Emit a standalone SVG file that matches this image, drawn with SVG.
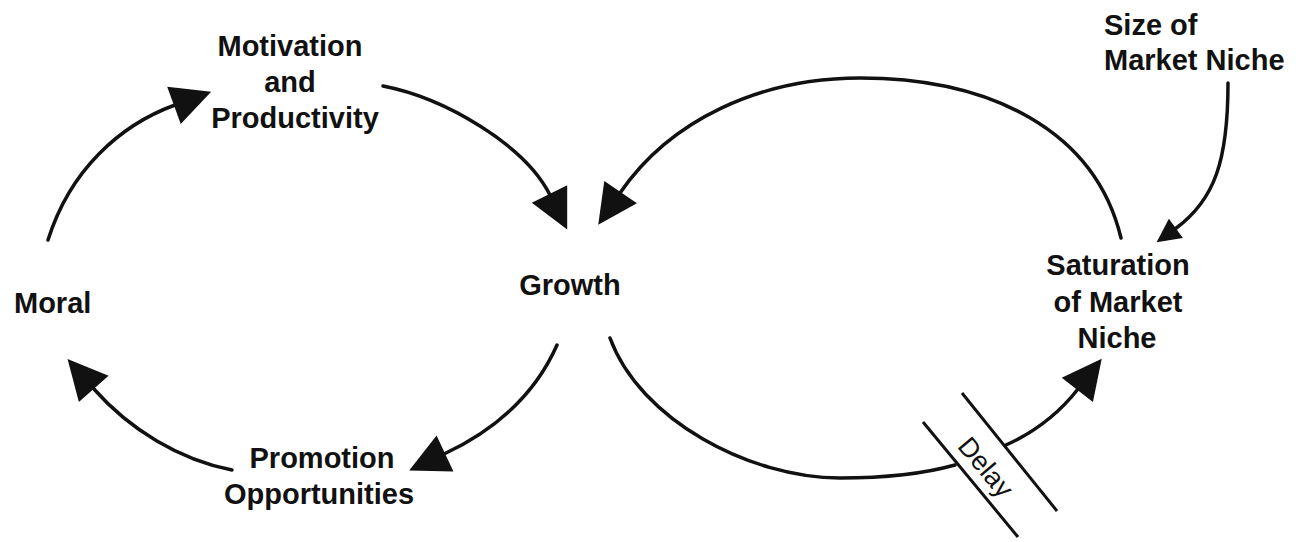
<svg xmlns="http://www.w3.org/2000/svg" width="1296" height="542" viewBox="0 0 1296 542">
  <defs>
    <style>
      .lbl { font-family: "Liberation Sans", Arial, sans-serif; font-weight: bold; font-size: 29px; fill: #111; }
      .mid { text-anchor: middle; }
      .link { fill: none; stroke: #111; stroke-width: 3.5; stroke-linecap: round; }
      .tick { fill: none; stroke: #111; stroke-width: 3; }
      .delay { font-family: "Liberation Sans", Arial, sans-serif; font-size: 27px; fill: #111; text-anchor: middle; }
    </style>
    <marker id="head" markerUnits="userSpaceOnUse" markerWidth="44" markerHeight="44" refX="1" refY="18" orient="auto" viewBox="0 0 40 36" overflow="visible">
      <path d="M0,0 L36,18 L0,36 Z" fill="#111"/>
    </marker>
    <marker id="head-sm" markerUnits="userSpaceOnUse" markerWidth="26" markerHeight="26" refX="1" refY="11" orient="auto" viewBox="0 0 24 22" overflow="visible">
      <path d="M0,0 L22,11 L0,22 Z" fill="#111"/>
    </marker>
  </defs>
  <rect width="1296" height="542" fill="#fff"/>

  <!-- Connectors -->
  <g id="connectors">
    <!-- Moral -> Motivation and Productivity -->
    <path class="link" d="M48,240 C70,170 120,125 175,105" marker-end="url(#head)"/>
    <!-- Motivation and Productivity -> Growth -->
    <path class="link" d="M383,86 C445,98 525,145 550,195" marker-end="url(#head)"/>
    <!-- Saturation of Market Niche -> Growth -->
    <path class="link" d="M1121,238 C1095,130 990,78 860,78 C760,78 670,120 620,193" marker-end="url(#head)"/>
    <!-- Size of Market Niche -> Saturation of Market Niche -->
    <path class="link" d="M1228,83 C1228,160 1215,200 1175,229" marker-end="url(#head-sm)"/>
    <!-- Growth -> Promotion Opportunities -->
    <path class="link" d="M557,345 C535,395 495,430 444,454" marker-end="url(#head)"/>
    <!-- Promotion Opportunities -> Moral -->
    <path class="link" d="M232,470 C180,460 130,430 93,388" marker-end="url(#head)"/>
    <!-- Growth -> Saturation of Market Niche, with delay -->
    <path class="link" d="M610,338 C640,420 750,478 840,478 C890,478 930,472 955,465"/>
    <path class="link" d="M1006,445 C1035,432 1060,412 1078,389" marker-end="url(#head)"/>
    <line class="tick" x1="923" y1="422" x2="1018" y2="537"/>
    <line class="tick" x1="962" y1="393" x2="1057" y2="511"/>
    <text class="delay" transform="translate(986,467) rotate(50)" y="9.5">Delay</text>
  </g>

  <!-- Nodes -->
  <g id="motivation">
    <text class="lbl mid" x="290" y="56">Motivation</text>
    <text class="lbl mid" x="290" y="92">and</text>
    <text class="lbl mid" x="295" y="128">Productivity</text>
  </g>
  <g id="moral">
    <text class="lbl" x="14" y="313">Moral</text>
  </g>
  <g id="growth">
    <text class="lbl mid" x="570" y="295">Growth</text>
  </g>
  <g id="promotion">
    <text class="lbl mid" x="322" y="468">Promotion</text>
    <text class="lbl mid" x="319" y="504">Opportunities</text>
  </g>
  <g id="size-of-market-niche">
    <text class="lbl" x="1104" y="35">Size of</text>
    <text class="lbl" x="1104" y="70">Market Niche</text>
  </g>
  <g id="saturation">
    <text class="lbl mid" x="1118" y="275">Saturation</text>
    <text class="lbl mid" x="1118" y="312">of Market</text>
    <text class="lbl mid" x="1117" y="348">Niche</text>
  </g>
</svg>
